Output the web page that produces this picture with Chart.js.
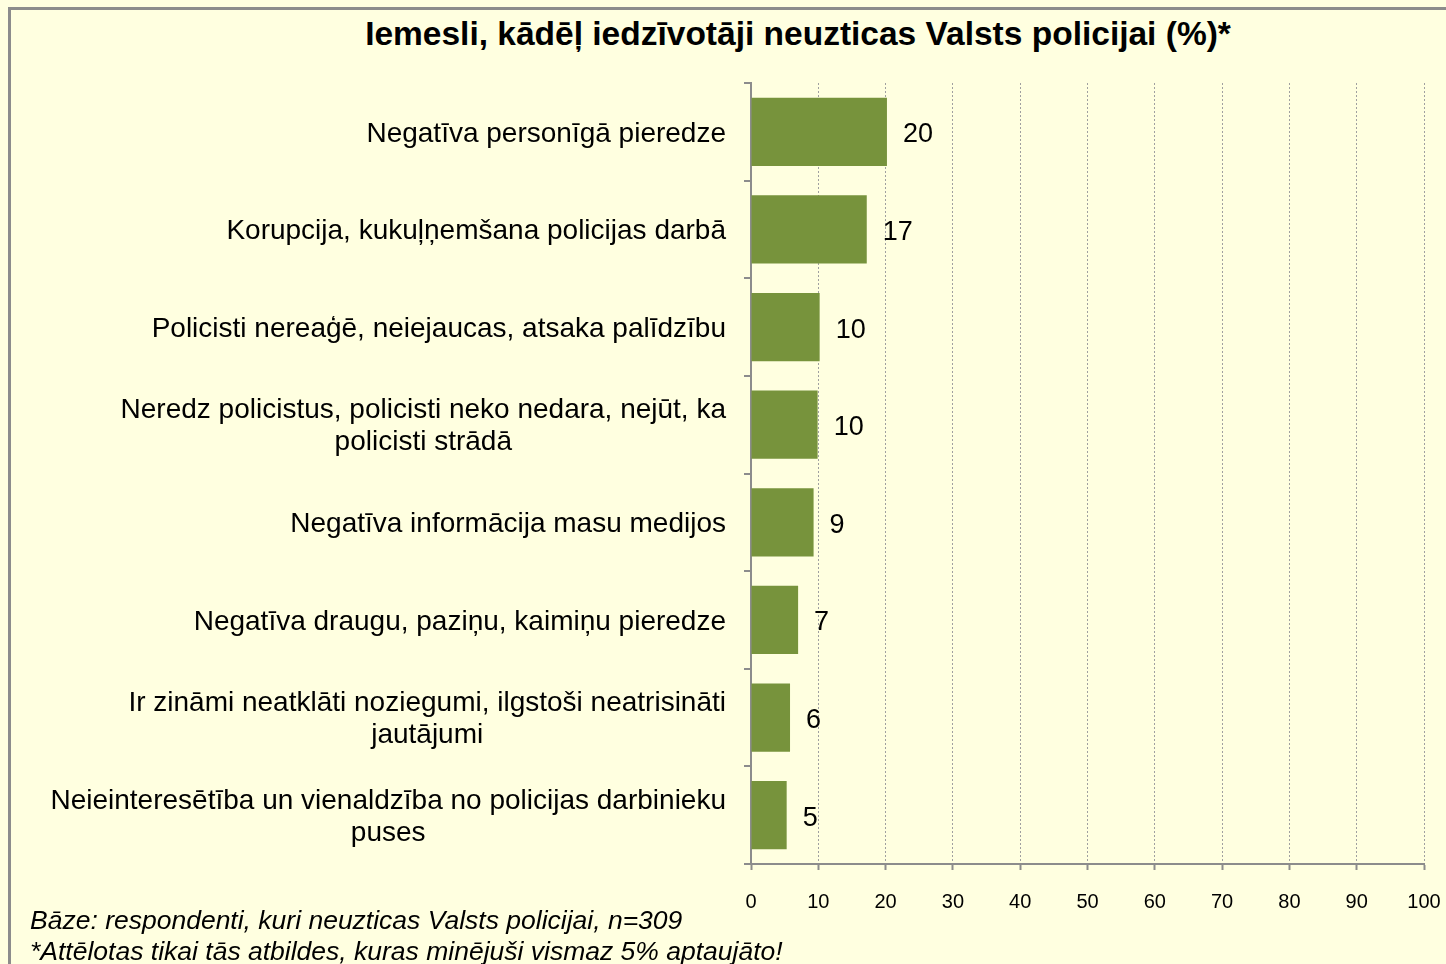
<!DOCTYPE html>
<html>
<head>
<meta charset="utf-8">
<script src="https://cdn.jsdelivr.net/npm/chart.js@4/dist/chart.umd.min.js"></script>
<style>
  html, body { margin: 0; padding: 0; background: #FFFFE0; overflow: hidden; }
  body { width: 1446px; height: 964px; position: relative; font-family: "Liberation Sans", Arial, sans-serif; }
  #frame { position: absolute; left: 8px; top: 7px; width: 1460px; height: 980px; border-left: 3px solid #8c8c8c; border-top: 3px solid #8c8c8c; }
  #title { position: absolute; left: 0; width: 1596px; top: 15px; text-align: center; font-weight: bold; font-size: 33.5px; color: #000; }
  #wrap { position: absolute; left: 0; top: 0; width: 1446px; height: 964px; }
  #notes { position: absolute; left: 30px; top: 905px; font-size: 26.5px; font-style: italic; line-height: 31px; color: #000; white-space: nowrap; }
</style>
</head>
<body>
<div id="frame"></div>
<div id="title">Iemesli, kādēļ iedzīvotāji neuzticas Valsts policijai (%)*</div>
<div id="wrap"><canvas id="chart" width="1446" height="964"></canvas></div>
<div id="notes">Bāze: respondenti, kuri neuzticas Valsts policijai, n=309<br>*Attēlotas tikai tās atbildes, kuras minējuši vismaz 5% aptaujāto!</div>
<script>
const categories = [
  ['Negatīva personīgā pieredze'],
  ['Korupcija, kukuļņemšana policijas darbā'],
  ['Policisti nereaģē, neiejaucas, atsaka palīdzību'],
  ['Neredz policistus, policisti neko nedara, nejūt, ka', 'policisti strādā'],
  ['Negatīva informācija masu medijos'],
  ['Negatīva draugu, paziņu, kaimiņu pieredze'],
  ['Ir zināmi neatklāti noziegumi, ilgstoši neatrisināti', 'jautājumi'],
  ['Neieinteresētība un vienaldzība no policijas darbinieku', 'puses']
];
const values = [20.2, 17.2, 10.2, 9.9, 9.3, 7.0, 5.8, 5.3];
const valueLabels = [20, 17, 10, 10, 9, 7, 6, 5];
const xTicks = [0, 10, 20, 30, 40, 50, 60, 70, 80, 90, 100];

const FONT = '"Liberation Sans", Arial, sans-serif';

// category labels: right aligned block, lines centred inside it
const catLabels = {
  id: 'catLabels',
  afterDraw(chart) {
    const ctx = chart.ctx;
    const y = chart.scales.y;
    ctx.save();
    ctx.font = '28px ' + FONT;
    ctx.fillStyle = '#000';
    ctx.textBaseline = 'middle';
    ctx.textAlign = 'center';
    const right = 726, lh = 32;
    categories.forEach((lines, i) => {
      const cy = y.getPixelForTick(i) + 2;
      const w = Math.max(...lines.map(l => ctx.measureText(l).width));
      const cx = right - w / 2;
      const y0 = cy - (lines.length - 1) * lh / 2;
      lines.forEach((l, j) => ctx.fillText(l, cx, y0 + j * lh));
    });
    ctx.restore();
  }
};

// value labels at the end of each bar
const valLabels = {
  id: 'valLabels',
  afterDatasetsDraw(chart) {
    const ctx = chart.ctx;
    const meta = chart.getDatasetMeta(0);
    ctx.save();
    ctx.font = '27px ' + FONT;
    ctx.fillStyle = '#000';
    ctx.textBaseline = 'middle';
    ctx.textAlign = 'left';
    meta.data.forEach((bar, i) => {
      ctx.fillText(String(valueLabels[i]), bar.x + 16, bar.y + 3);
    });
    ctx.restore();
  }
};

new Chart(document.getElementById('chart'), {
  type: 'bar',
  data: {
    labels: categories.map(c => c.join(' ')),
    datasets: [{
      data: values,
      backgroundColor: '#77933C',
      borderWidth: 0,
      categoryPercentage: 1,
      barPercentage: 0.7
    }]
  },
  options: {
    indexAxis: 'y',
    responsive: false,
    animation: false,
    layout: { padding: { left: 0, top: 83, right: 22, bottom: 40 } },
    plugins: {
      legend: { display: false },
      tooltip: { enabled: false }
    },
    scales: {
      x: {
        min: 0,
        max: 100,
        afterBuildTicks: s => { s.ticks = xTicks.map(v => ({ value: v })); },
        afterFit: s => { s.height = 60; s.paddingLeft = 0; s.paddingRight = 0; },
        grid: {
          color: '#a0a0a0',
          lineWidth: 1,
          tickLength: 6,
          tickColor: '#8c8c8c',
          tickWidth: 2,
          tickBorderDash: []
        },
        // dash applies to the grid lines, the axis line stays solid
        border: { display: true, color: '#8c8c8c', width: 2, dash: [2, 2] },
        ticks: {
          color: '#000',
          font: { family: FONT, size: 20 },
          padding: 20,
          maxRotation: 0
        }
      },
      y: {
        afterFit: s => { s.width = 751; },
        border: { display: true, color: '#8c8c8c', width: 2 },
        grid: {
          offset: true,
          drawOnChartArea: false,
          tickLength: 7,
          color: '#8c8c8c',
          lineWidth: 2
        },
        ticks: { display: false }
      }
    }
  },
  plugins: [catLabels, valLabels]
});
</script>
</body>
</html>
